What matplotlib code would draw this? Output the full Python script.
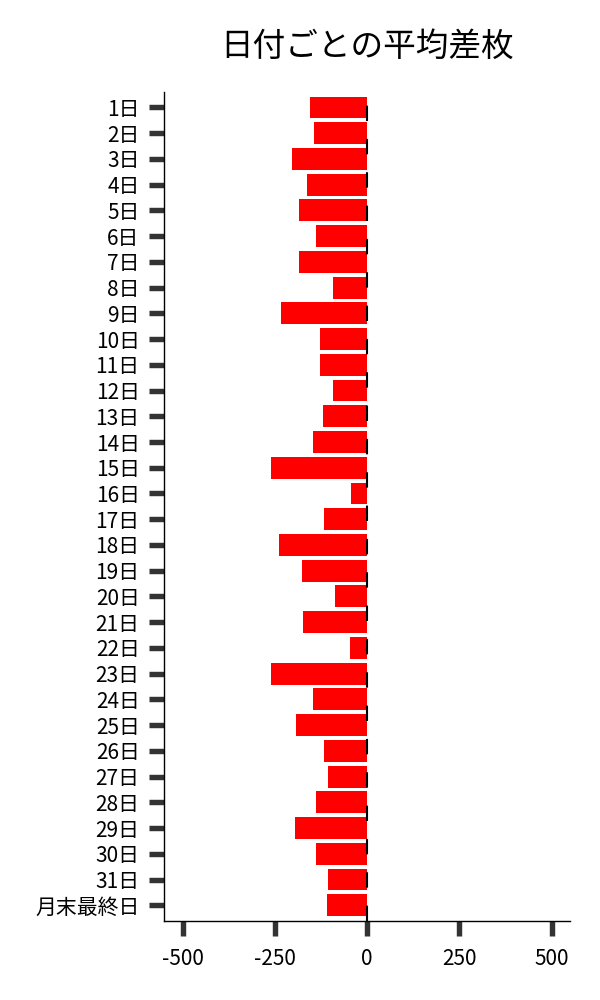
import matplotlib
matplotlib.use("Agg")
import matplotlib.pyplot as plt

plt.rcParams['font.family'] = ['Noto Sans CJK JP', 'DejaVu Sans']

days = [f"{i}日" for i in range(1, 32)] + ["月末最終日"]
values = [-154, -143, -203, -162, -184, -140, -184, -94, -235, -127, -129, -94,
          -121, -146, -260, -45, -116, -238, -178, -86, -175, -48, -260, -146,
          -192, -118, -105, -140, -197, -140, -105, -108]
xticks = [-500, -250, 0, 250, 500]
title = "日付ごとの平均差枚"

fig = plt.figure(figsize=(6, 10), dpi=100)
ax = fig.add_axes([0.274, 0.0793, 0.676, 0.8287])
ypos = list(range(len(days)))
ax.barh(ypos, values, height=0.85, color='#ff0000', zorder=2)
ax.axvline(0, color='black', lw=1.5, linestyle=(0, (7.4, 8.6)), zorder=3)

ax.set_yticks(ypos)
ax.set_yticklabels(days)
ax.set_ylim(31.6, -0.6)
ax.set_xlim(-550, 550)
ax.set_xticks(xticks)
ax.set_xticklabels([str(t) for t in xticks])

for s in ['top', 'right']:
    ax.spines[s].set_visible(False)
for s in ['left', 'bottom']:
    ax.spines[s].set_color('black')
    ax.spines[s].set_linewidth(1.0)

ax.tick_params(axis='both', length=10.8, width=3.9, color='#333333', labelsize=15, labelcolor='black')
ax.tick_params(axis='y', pad=7)
ax.tick_params(axis='x', pad=9)

ax.set_title(title, fontsize=23.5, pad=26)

fig.savefig('out.png', dpi=100, facecolor='white')
